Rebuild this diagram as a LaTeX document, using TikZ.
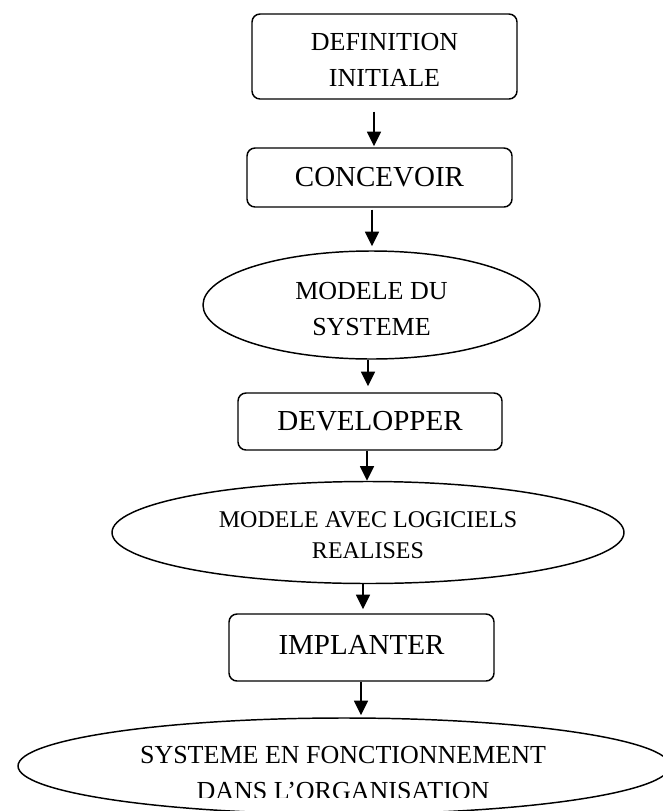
\documentclass[tikz,border=0pt]{standalone}
\usepackage{fontspec}
\setmainfont{Liberation Serif}
\usetikzlibrary{shapes.geometric,arrows.meta,calc}
\begin{document}
\begin{tikzpicture}[x=0.75pt,y=-0.75pt,
  stepbox/.style={draw,line width=1.1pt,rounded corners=6pt,inner sep=0pt,align=center},
  result/.style={draw,ellipse,line width=1.1pt,inner sep=0pt,align=center},
  flow/.style={line width=1.1pt,-{Triangle[length=11pt,width=10.5pt]}},
  small/.style={font=\fontsize{19.5}{27}\selectfont},
  mid/.style={font=\fontsize{18}{23.25}\selectfont},
  big/.style={font=\fontsize{21.75}{27}\selectfont}]
\useasboundingbox (0,0) rectangle (662,811);

% process steps and their results
\node[stepbox,small,minimum width=198.75pt,minimum height=63.75pt] (def) at (384.5,56.5) {\rule{0pt}{18pt}DEFINITION\\INITIALE};
\node[stepbox,big,minimum width=198.75pt,minimum height=44.25pt] (conc) at (379.5,177.5) {CONCEVOIR};
\node[result,small,minimum width=252.75pt,minimum height=81pt] (mod1) at (371.5,305) {\rule{0pt}{18.9pt}MODELE DU\\SYSTEME};
\node[stepbox,big,minimum width=198pt,minimum height=42.75pt] (dev) at (370,421.5) {DEVELOPPER};
\node[result,mid,minimum width=384pt,minimum height=76.5pt] (mod2) at (368,532.5) {\rule{0pt}{15.7pt}MODELE AVEC LOGICIELS\\REALISES};
\node[stepbox,big,minimum width=198.75pt,minimum height=50.25pt] (impl) at (361.5,647.5) {IMPLANTER\rule[-4.5pt]{0pt}{4.5pt}};
\node[result,minimum width=489pt,minimum height=72pt] (sys) at (344,766) {};
\begin{scope}
  \clip (0,0) rectangle (662,797);
  \node[small,align=center,inner sep=0pt] (systxt) at (343,773) {SYSTEME EN FONCTIONNEMENT\\DANS L’ORGANISATION};
\end{scope}

% arrows between the stages
\draw[flow] ($(def.south)+(-10.5,12)$) -- ($(conc.north)+(-5.5,-1)$);
\draw[flow] ($(conc.south)+(-7.5,2)$) -- ($(mod1.north)+(0.5,-4)$);
\draw[flow] ($(mod1.south)+(-3.5,0)$) -- ($(dev.north)+(-2,-6)$);
\draw[flow] ($(dev.south)+(-3,0)$) -- ($(mod2.north)+(-1,0)$);
\draw[flow] ($(mod2.south)+(-5,0)$) -- ($(impl.north)+(1.5,-4)$);
\draw[flow] ($(impl.south)+(-0.5,0)$) -- ($(sys.north)+(17,-2)$);
\end{tikzpicture}
\end{document}
